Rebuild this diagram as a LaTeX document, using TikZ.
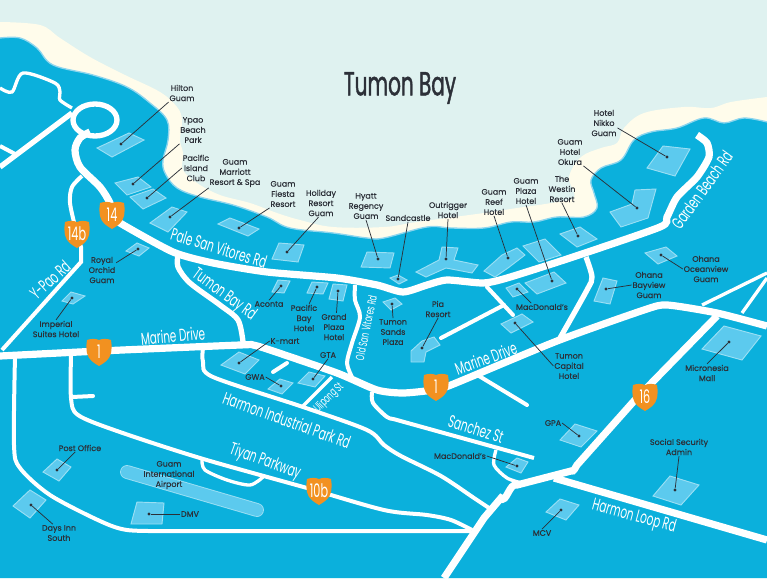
\documentclass[tikz,border=0pt]{standalone}
\usepackage{fontspec}
\usepackage{xcolor}
\usetikzlibrary{calc,positioning}
\setmainfont[FakeBold=.35]{Poppins}
\newfontfamily\roadfont[FakeStretch=0.6]{Poppins}
\newfontfamily\titlefont[FakeStretch=0.6,FakeBold=1.2]{Poppins}
\definecolor{bay}{HTML}{DFF2F0}
\definecolor{beach}{HTML}{FFFCEB}
\definecolor{land}{HTML}{0BB0DC}
\definecolor{shore}{HTML}{8DD5EE}
\definecolor{bldgfill}{HTML}{5CCAEE}
\definecolor{bldgedge}{HTML}{9ADFF4}
\definecolor{shieldorange}{HTML}{F29120}
\definecolor{ink}{HTML}{2C3038}
\tikzset{
	mainroad/.style={draw=white,line width=5.4pt},
	midroad/.style={draw=white,line width=4pt},
	sideroad/.style={draw=white,line width=3pt},
	thinroad/.style={draw=white,line width=2.5pt},
	bldg/.style={draw=bldgedge,fill=bldgfill,line width=.7pt},
	bldgdot/.style={circle,fill=ink,inner sep=0pt,minimum size=2.4pt},
	placetext/.style={text=ink,align=center,inner sep=.5pt,font=\fontsize{6}{7.6}\selectfont},
	roadtext/.style={text=white,inner sep=0pt,font=\roadfont\fontsize{13}{13}\selectfont},
	smallroadtext/.style={text=white,inner sep=0pt,font=\roadfont\fontsize{9}{9}\selectfont},
	shieldtext/.style={text=white,inner sep=0pt,font=\roadfont\fontsize{14}{14}\selectfont},
	leader/.style={draw=ink,line width=.55pt}
}
\newcommand{\routeshield}[3]{
	\fill[shieldorange,shift={(#1)}] (-12,-12) .. controls (-8,-13.5) and (-3,-13.5) .. (0,-12) .. controls (3,-13.5) and (8,-13.5) .. (12,-12) .. controls (13,-6) and (12.5,-2) .. (12,1) .. controls (10.5,8) and (5,11) .. (0,14) .. controls (-5,11) and (-10.5,8) .. (-12,1) .. controls (-12.5,-2) and (-13,-6) .. (-12,-12) -- cycle;
	\node[shieldtext] (#2) at (#1) {#3};
}
\begin{document}
\begin{tikzpicture}[x=.75pt,y=-.75pt]
	\useasboundingbox (0,0) rectangle (767,578);
	\clip (0,0) rectangle (767,578);
	\fill[bay] (0,0) rectangle (767,578);
	\fill[beach] plot[smooth,tension=.6] coordinates {(0,22) (40,25) (60,38) (90,57) (125,75) (160,92) (177,107) (182,120) (180,140) (183,153) (183,170) (197,183) (220,195) (250,203) (277,213) (300,220) (333,227) (384,227) (417,222) (484,213) (517,208) (551,203) (574,197) (569,177) (581,157) (601,148) (617,143) (624,128) (644,113) (684,107) (711,108) (731,102) (767,97)} -- (767,578) -- (0,578) -- cycle;
	\fill[land] plot[smooth,tension=.6] coordinates {(0,38) (20,38) (37,48) (53,65) (93,75) (127,87) (150,103) (167,120) (168,140) (163,160) (165,173) (177,188) (200,197) (233,205) (267,217) (290,228) (333,233) (367,238) (384,238) (427,227) (451,228) (484,228) (511,222) (534,222) (557,217) (584,217) (597,208) (594,193) (591,180) (601,168) (621,160) (634,140) (651,132) (677,128) (704,118) (724,123) (744,118) (767,122)} -- (767,578) -- (0,578) -- cycle;
	\draw[shore,line width=1pt] plot[smooth,tension=.6] coordinates {(0,38) (20,38) (37,48) (53,65) (93,75) (127,87) (150,103) (167,120) (168,140) (163,160) (165,173) (177,188) (200,197) (233,205) (267,217) (290,228) (333,233) (367,238) (384,238) (427,227) (451,228) (484,228) (511,222) (534,222) (557,217) (584,217) (597,208) (594,193) (591,180) (601,168) (621,160) (634,140) (651,132) (677,128) (704,118) (724,123) (744,118) (767,122)};

	\draw[mainroad] plot[smooth,tension=.5] coordinates {(90,132) (80,138) (75,150) (80,167) (100,187) (110,203) (112,213)};
	\draw[mainroad] plot[smooth,tension=.4] coordinates {(112,215) (120,223) (173,252) (213,263) (267,272) (337,278) (377,285) (403,292) (427,285) (447,280) (483,283) (507,278) (573,257) (660,227) (667,217) (677,197) (697,177) (709,157) (707,143) (697,135)};
	\draw[mainroad] plot[smooth,tension=.4] coordinates {(0,356) (100,351) (240,345) (253,345) (270,350) (337,373) (377,390) (403,393) (433,390) (451,385) (557,341) (644,310) (667,305) (717,313) (767,326)};
	\draw[mainroad] (717,316) -- (634,401) -- (577,465) to[out=-130,in=-20] (571,471) -- (517,485) to[out=160,in=-50] (501,498) -- (484,518) -- (444,578);
	\draw[mainroad] (554,478) -- (767,540);
	\draw[midroad] (95,120) ellipse (22 and 16);
	\draw[midroad] (72,113) -- (0,167);
	\draw[midroad] plot[smooth,tension=.5] coordinates {(178,255) (178,267) (190,283) (220,305) (238,320) (243,342)};
	\draw[midroad] plot[smooth,tension=.5] coordinates {(586,257) (592,277) (587,290) (560,338)};
	\draw[sideroad] (0,146) -- (17,155);
	\draw[sideroad] plot[smooth,tension=.5] coordinates {(82,176) (72,187) (70,203) (76,230) (81,247)} -- (81,262) -- (2,350);
	\draw[sideroad] plot[smooth,tension=.5] coordinates {(355,285) (355,300) (360,317) (352,343) (347,363) (352,377)};
	\draw[sideroad] plot[smooth,tension=.5] coordinates {(203,348) (203,362) (213,377) (303,407) (367,430) (384,445) (401,456) (441,476) (474,498) (489,508)};
	\draw[sideroad] plot[smooth,tension=.5] coordinates {(372,392) (373,403) (387,417) (397,420) (451,435) (534,458)};
	\draw[sideroad] plot[smooth,tension=.5] coordinates {(15,356) (14,445) (20,468) (50,495) (100,521) (127,530) (167,531)} -- (471,531);
	\draw[sideroad] plot[smooth,tension=.5] coordinates {(71,356) (71,398) (78,415) (117,431) (200,458) (307,488) (384,510) (427,515) (451,520) (472,530)};
	\draw[sideroad,line cap=round] (287,363) -- (273,372);
	\draw[sideroad,line cap=round] (479,376) -- (527,405);
	\draw[sideroad,line cap=round] (441,338) -- (504,305);
	\draw[sideroad,line cap=round] (487,287) -- (513,315);
	\draw[sideroad,line cap=round] (72,397) -- (93,396);
	\draw[thinroad] plot[smooth,tension=.5] coordinates {(0,88) (12,92) (23,73) (55,83) (60,92) (60,100) (72,108)};
	\draw[thinroad] (332,377) -- (302,407);
	\draw[thinroad] plot[smooth,tension=.5] coordinates {(496,450) (494,465) (507,478) (522,483)};
	\draw[thinroad] plot[smooth,tension=.5] coordinates {(202,460) (205,470) (227,480) (250,485) (263,477)};
	\draw[thinroad] (702,305) -- (767,273);
	\draw[thinroad] (742,313) -- (767,278);

	\draw[bldg] (97,148) -- (129,133) -- (144,140) -- (112,157) -- cycle;
	\draw[bldg] (115,183) -- (138,177) -- (151,187) -- (127,195) -- cycle;
	\draw[bldg] (130,197) -- (153,189) -- (166,198) -- (143,209) -- cycle;
	\draw[bldg] (150,223) -- (172,207) -- (187,212) -- (168,232) -- cycle;
	\draw[bldg] (218,224) -- (230,218) -- (259,229) -- (248,236) -- cycle;
	\draw[bldg] (279,243) -- (304,245) -- (298,262) -- (272,259) -- cycle;
	\draw[bldg] (367,252) -- (394,253) -- (390,268) -- (361,267) -- cycle;
	\draw[bldg] (390,278) -- (398,275) -- (407,280) -- (399,284) -- cycle;
	\draw[bldg] (416,272) -- (439,260) -- (442,247) -- (458,248) -- (454,260) -- (478,265) -- (472,273) -- (446,268) -- (426,277) -- cycle;
	\draw[bldg] (484,271) -- (502,255) -- (517,248) -- (525,255) -- (508,268) -- (495,277) -- cycle;
	\draw[bldg] (523,246) -- (545,239) -- (561,255) -- (539,262) -- cycle;
	\draw[bldg] (560,234) -- (580,227) -- (597,239) -- (577,247) -- cycle;
	\draw[bldg] (610,212) -- (632,204) -- (635,190) -- (656,189) -- (648,218) -- (621,227) -- cycle;
	\draw[bldg] (647,168) -- (663,146) -- (690,149) -- (675,176) -- cycle;
	\draw[bldg] (525,283) -- (554,272) -- (566,283) -- (537,294) -- cycle;
	\draw[bldg] (506,288) -- (519,283) -- (528,292) -- (513,297) -- cycle;
	\draw[bldg] (501,324) -- (522,314) -- (533,322) -- (511,333) -- cycle;
	\draw[bldg] (603,278) -- (617,281) -- (610,304) -- (594,301) -- cycle;
	\draw[bldg] (645,253) -- (666,247) -- (677,256) -- (658,264) -- cycle;
	\draw[bldg] (724,326) -- (761,336) -- (742,360) -- (702,349) -- cycle;
	\draw[bldg] (411,351) -- (422,341) -- (434,337) -- (440,345) -- (426,352) -- (424,362) -- (411,362) -- cycle;
	\draw[bldg] (560,440) -- (575,424) -- (597,431) -- (581,447) -- cycle;
	\draw[bldg] (506,467) -- (517,458) -- (528,462) -- (521,473) -- cycle;
	\draw[bldg] (653,496) -- (670,476) -- (699,485) -- (681,505) -- cycle;
	\draw[bldg] (546,512) -- (560,499) -- (579,505) -- (566,520) -- cycle;
	\draw[bldg] (383,302) -- (395,298) -- (402,304) -- (391,310) -- cycle;
	\draw[bldg] (333,284) -- (347,285) -- (343,301) -- (329,299) -- cycle;
	\draw[bldg] (312,282) -- (328,283) -- (323,294) -- (307,293) -- cycle;
	\draw[bldg] (278,280) -- (290,281) -- (284,293) -- (272,292) -- cycle;
	\draw[bldg] (221,365) -- (239,352) -- (259,360) -- (245,374) -- cycle;
	\draw[bldg] (268,389) -- (280,379) -- (293,383) -- (282,394) -- cycle;
	\draw[bldg] (298,383) -- (309,372) -- (325,376) -- (315,387) -- cycle;
	\draw[bldg] (126,251) -- (137,243) -- (149,248) -- (139,256) -- cycle;
	\draw[bldg] (62,301) -- (71,292) -- (85,296) -- (73,304) -- cycle;
	\draw[bldg] (43,472) -- (57,459) -- (71,467) -- (59,481) -- cycle;
	\draw[bldg] (13,506) -- (30,490) -- (46,500) -- (30,518) -- cycle;
	\draw[bldg] (131,524) -- (137,502) -- (164,503) -- (162,524) -- cycle;
	\draw[bldgedge,line width=10.4pt,line cap=round] (127,472) -- (257,510);
	\draw[bldgfill,line width=9pt,line cap=round] (127,472) -- (257,510);

	\routeshield{112,215}{routefourteen}{14}
	\routeshield{77,234}{routefourteenb}{14b}
	\routeshield{99,352}{routeonewest}{1}
	\routeshield{436,387}{routeoneeast}{1}
	\routeshield{645,397}{routesixteen}{16}
	\routeshield{319,491}{routetenb}{10b}

	\node[text=ink,inner sep=0pt,font=\titlefont\fontsize{25}{25}\selectfont] (titlebay) at (400,88) {Tumon Bay};

	\node[roadtext,rotate=-17] (palerd) at (219,248) {Pale San Vitores Rd};
	\node[roadtext,rotate=-36] (tumonrd) at (224,295) {Tumon Bay Rd};
	\node[roadtext,rotate=42] (ypaord) at (50,280) {Y-Pao Rd};
	\node[roadtext,rotate=5] (marinewest) at (173,336) {Marine Drive};
	\node[roadtext,rotate=20] (marineeast) at (486,358) {Marine Drive};
	\node[smallroadtext,rotate=78] (oldsanrd) at (366,328) {Old San Vitores Rd};
	\node[smallroadtext,rotate=45] (ulipongst) at (329,398) {Ulipong St};
	\node[roadtext,rotate=-20] (harmonind) at (287,420) {Harmon Industrial Park Rd};
	\node[roadtext,rotate=-17] (sanchezst) at (476,429) {Sanchez St};
	\node[roadtext,rotate=-20] (tiyanpkwy) at (265,462) {Tiyan Parkway};
	\node[roadtext,rotate=-15] (harmonloop) at (634,517) {Harmon Loop Rd};
	\node[roadtext,rotate=54] (gardenrd) at (702,190) {Garden Beach Rd};

	\node[placetext] (hilton) at (182,93) {Hilton\\Guam};
	\node[placetext] (ypao) at (193,130) {Ypao\\Beach\\Park};
	\node[placetext] (pacisland) at (196,168) {Pacific\\Island\\Club};
	\node[placetext] (marriott) at (235,173) {Guam\\Marriott\\Resort \& Spa};
	\node[placetext] (fiesta) at (283,194) {Guam\\Fiesta\\Resort};
	\node[placetext] (holiday) at (321,203) {Holiday\\Resort\\Guam};
	\node[placetext] (hyatt) at (366,206) {Hyatt\\Regency\\Guam};
	\node[placetext] (sandcastle) at (408,218) {Sandcastle};
	\node[placetext] (outrigger) at (448,210) {Outrigger\\Hotel};
	\node[placetext] (reef) at (494,202) {Guam\\Reef\\Hotel};
	\node[placetext] (plaza) at (526,191) {Guam\\Plaza\\Hotel};
	\node[placetext] (westin) at (562,189) {The\\Westin\\Resort};
	\node[placetext] (okura) at (570,152) {Guam\\Hotel\\Okura};
	\node[placetext] (nikko) at (604,123) {Hotel\\Nikko\\Guam};
	\node[placetext] (oceanview) at (706,269) {Ohana\\Oceanview\\Guam};
	\node[placetext] (bayview) at (649,285) {Ohana\\Bayview\\Guam};
	\node[placetext] (macnorth) at (542,307) {MacDonald's};
	\node[placetext] (pia) at (438,309) {Pia\\Resort};
	\node[placetext] (sands) at (393,332) {Tumon\\Sands\\Plaza};
	\node[placetext] (grandplaza) at (334,327) {Grand\\Plaza\\Hotel};
	\node[placetext] (pacbay) at (304,318) {Pacific\\Bay\\Hotel};
	\node[placetext] (aconta) at (269,304) {Aconta};
	\node[placetext] (kmart) at (285,341) {K-mart};
	\node[placetext] (gta) at (328,355) {GTA};
	\node[placetext] (gwa) at (255,377) {GWA};
	\node[placetext] (orchid) at (102,270) {Royal\\Orchid\\Guam};
	\node[placetext] (imperial) at (56,329) {Imperial\\Suites Hotel};
	\node[placetext] (postoffice) at (80,448) {Post Office};
	\node[placetext] (airport) at (169,475) {Guam\\International\\Airport};
	\node[placetext] (dmv) at (190,514) {DMV};
	\node[placetext] (daysinn) at (59,533) {Days Inn\\South};
	\node[placetext] (capital) at (569,366) {Tumon\\Capital\\Hotel};
	\node[placetext] (micronesia) at (707,373) {Micronesia\\Mall};
	\node[placetext] (gpa) at (553,423) {GPA};
	\node[placetext] (macsouth) at (460,456) {MacDonald's};
	\node[placetext] (socsec) at (679,447) {Social Security\\Admin};
	\node[placetext] (mcv) at (542,533) {MCV};

	\node[bldgdot] (hiltondot) at (121,144) {};
	\node[bldgdot] (ypaodot) at (133,184) {};
	\node[bldgdot] (pacislanddot) at (147,198) {};
	\node[bldgdot] (marriottdot) at (170,217) {};
	\node[bldgdot] (fiestadot) at (239,228) {};
	\node[bldgdot] (holidaydot) at (287,252) {};
	\node[bldgdot] (hyattdot) at (378,259) {};
	\node[bldgdot] (sandcastledot) at (398,279) {};
	\node[bldgdot] (outriggerdot) at (446,259) {};
	\node[bldgdot] (reefdot) at (508,258) {};
	\node[bldgdot] (plazadot) at (552,281) {};
	\node[bldgdot] (westindot) at (578,236) {};
	\node[bldgdot] (okuradot) at (637,208) {};
	\node[bldgdot] (nikkodot) at (667,157) {};
	\node[bldgdot] (oceanviewdot) at (661,255) {};
	\node[bldgdot] (bayviewdot) at (606,289) {};
	\node[bldgdot] (macnorthdot) at (517,289) {};
	\node[bldgdot] (piadot) at (422,348) {};
	\node[bldgdot] (sandsdot) at (392,304) {};
	\node[bldgdot] (grandplazadot) at (338,291) {};
	\node[bldgdot] (pacbaydot) at (317,287) {};
	\node[bldgdot] (acontadot) at (281,286) {};
	\node[bldgdot] (kmartdot) at (239,363) {};
	\node[bldgdot] (gtadot) at (313,379) {};
	\node[bldgdot] (gwadot) at (281,386) {};
	\node[bldgdot] (orchiddot) at (138,249) {};
	\node[bldgdot] (imperialdot) at (72,298) {};
	\node[bldgdot] (postofficedot) at (57,470) {};
	\node[bldgdot] (dmvdot) at (149,514) {};
	\node[bldgdot] (daysinndot) at (31,505) {};
	\node[bldgdot] (capitaldot) at (515,323) {};
	\node[bldgdot] (micronesiadot) at (729,342) {};
	\node[bldgdot] (gpadot) at (579,436) {};
	\node[bldgdot] (macsouthdot) at (517,466) {};
	\node[bldgdot] (socsecdot) at (675,490) {};
	\node[bldgdot] (mcvdot) at (561,510) {};

	\draw[leader] (hilton.south west) -- (hiltondot);
	\draw[leader] (ypao.south west) -- (ypaodot);
	\draw[leader] (pacisland.west) -- (pacislanddot);
	\draw[leader] (marriott.south west) -- (marriottdot);
	\draw[leader] (fiesta.south west) -- (fiestadot);
	\draw[leader] (holiday.-100) -- (holidaydot);
	\draw[leader] (hyatt.south) -- (hyattdot);
	\draw[leader] (sandcastle.south) -- (sandcastledot);
	\draw[leader] (outrigger.south) -- (outriggerdot);
	\draw[leader] (reef.south) -- (reefdot);
	\draw[leader] (plaza.south) -- (plazadot);
	\draw[leader] (westin.south) -- (westindot);
	\draw[leader] (okura.south east) -- (okuradot);
	\draw[leader] (nikko.-20) -- (nikkodot);
	\draw[leader] (oceanview.west) -- (oceanviewdot);
	\draw[leader] (bayview.west) -- (bayviewdot);
	\draw[leader] (macnorth.160) -- (macnorthdot);
	\draw[leader] (pia.south) -- (piadot);
	\draw[leader] (sands.north) -- (sandsdot);
	\draw[leader] (grandplaza.80) -- (grandplazadot);
	\draw[leader] (pacbay.70) -- (pacbaydot);
	\draw[leader] (aconta.north) -- (acontadot);
	\draw[leader] (kmart.west) -- (kmartdot);
	\draw[leader] (gta.south) -- (gtadot);
	\draw[leader] (gwa.east) -- (gwadot);
	\draw[leader] (orchid.27) -- (orchiddot);
	\draw[leader] (imperial.north) -- (imperialdot);
	\draw[leader] (postoffice.-140) -- (postofficedot);
	\draw[leader] (dmv.west) -- (dmvdot);
	\draw[leader] (daysinn.125) -- (daysinndot);
	\draw[leader] (capital.west) -- (capitaldot);
	\draw[leader] (micronesia.north) -- (micronesiadot);
	\draw[leader] (gpa.east) -- (gpadot);
	\draw[leader] (macsouth.east) -- (macsouthdot);
	\draw[leader] (socsec.south) -- (socsecdot);
	\draw[leader] (mcv.north) -- (mcvdot);
\end{tikzpicture}
\end{document}
